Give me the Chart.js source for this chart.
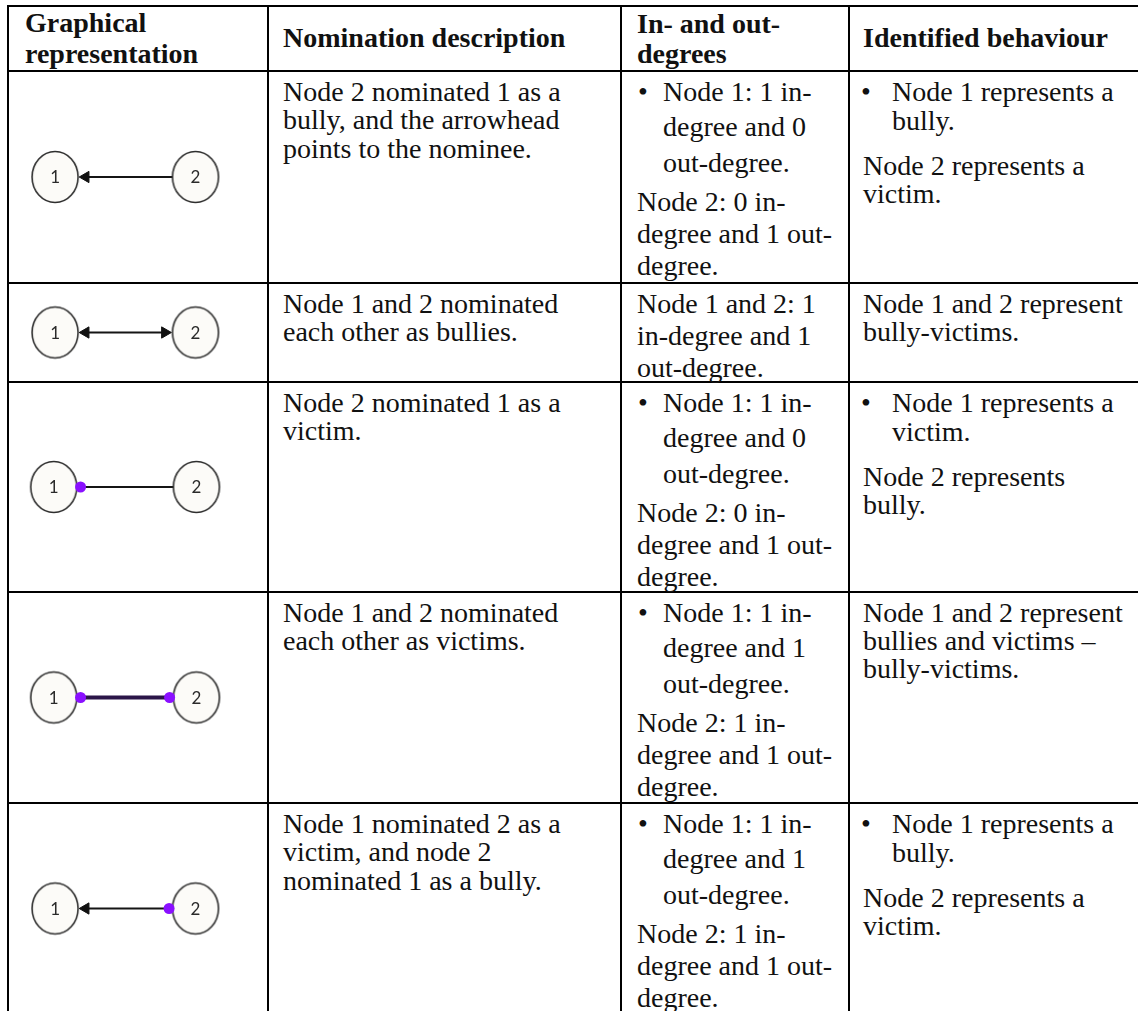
<!DOCTYPE html>
<html>
<head>
<meta charset="utf-8">
<script src="https://cdn.jsdelivr.net/npm/chart.js@4.4.1/dist/chart.umd.min.js"></script>
<style>
  body { margin: 0; background: #fff; width: 1138px; height: 1011px; overflow: hidden; position: relative;
         font-family: "Liberation Serif", "Times New Roman", serif; color: #111; }
  .ln { position: absolute; font-size: 28px; line-height: 28px; white-space: nowrap; }
  .hd { font-weight: bold; }
  .hl { position: absolute; height: 2px; background: #000; }
  .vl { position: absolute; width: 2px; background: #000; }
  canvas { position: absolute; }
</style>
</head>
<body>
<script>
// ---- table text ----
const headerLines = [['Graphical', 'representation'], ['Nomination description'], ['In- and out-', 'degrees'], ['Identified behaviour']];

const descriptionLines = [
  ['Node 2 nominated 1 as a', 'bully, and the arrowhead', 'points to the nominee.'],
  ['Node 1 and 2 nominated', 'each other as bullies.'],
  ['Node 2 nominated 1 as a', 'victim.'],
  ['Node 1 and 2 nominated', 'each other as victims.'],
  ['Node 1 nominated 2 as a', 'victim, and node 2', 'nominated 1 as a bully.']
];

const degreeBulletLines = [
  ['Node 1: 1 in-', 'degree and 0', 'out-degree.'],
  [],
  ['Node 1: 1 in-', 'degree and 0', 'out-degree.'],
  ['Node 1: 1 in-', 'degree and 1', 'out-degree.'],
  ['Node 1: 1 in-', 'degree and 1', 'out-degree.']
];
const degreeNoteLines = [
  ['Node 2: 0 in-', 'degree and 1 out-', 'degree.'],
  ['Node 1 and 2: 1', 'in-degree and 1', 'out-degree.'],
  ['Node 2: 0 in-', 'degree and 1 out-', 'degree.'],
  ['Node 2: 1 in-', 'degree and 1 out-', 'degree.'],
  ['Node 2: 1 in-', 'degree and 1 out-', 'degree.']
];

const behaviourBulletLines = [
  ['Node 1 represents a', 'bully.'],
  [],
  ['Node 1 represents a', 'victim.'],
  [],
  ['Node 1 represents a', 'bully.']
];
const behaviourNoteLines = [
  ['Node 2 represents a', 'victim.'],
  ['Node 1 and 2 represent', 'bully-victims.'],
  ['Node 2 represents', 'bully.'],
  ['Node 1 and 2 represent', 'bullies and victims –', 'bully-victims.'],
  ['Node 2 represents a', 'victim.']
];

// ---- graph data (one small two-node graph per row) ----
const nodeIds = ['1', '2'];
const nodeX = [1, 2];
const arrowTo = [[1], [1, 2], [], [], [1]];      // nodes an arrowhead points at
const victimDot = [[], [], [1], [1, 2], [2]];    // nodes carrying a purple victim dot

// ---- layout ----
const colEdges = [8, 268, 621, 849, 1142];
const rowEdges = [6, 71, 283, 382, 592, 803, 1014];
const ASC = 23.45;

function placeLine(text, x, baseline, bold) {
  const d = document.createElement('div');
  d.className = 'ln' + (bold ? ' hd' : '');
  d.textContent = text;
  d.style.left = x + 'px';
  d.style.top = (baseline - ASC) + 'px';
  document.body.appendChild(d);
}

// grid
rowEdges.forEach(y => {
  const d = document.createElement('div');
  d.className = 'hl';
  d.style.left = '7px'; d.style.width = '1140px'; d.style.top = (y - 1) + 'px';
  document.body.appendChild(d);
});
colEdges.forEach(x => {
  const d = document.createElement('div');
  d.className = 'vl';
  d.style.left = (x - 1) + 'px'; d.style.top = '5px'; d.style.height = '1010px';
  document.body.appendChild(d);
});

// header
const headerX = [25, 283, 637, 863];
const headerBase = [[32, 63], [47], [33, 63], [47]];
headerLines.forEach((lines, c) => lines.forEach((t, i) => placeLine(t, headerX[c], headerBase[c][i], true)));

// body text
for (let r = 0; r < 5; r++) {
  const top = rowEdges[r + 1];
  descriptionLines[r].forEach((t, i) => placeLine(t, 283, top + 30 + i * 28.5));

  let y = top + 30;
  degreeBulletLines[r].forEach((t, i) => {
    if (i === 0) placeLine('•', 638, y);
    placeLine(t, 663, y);
    y += 35.5;
  });
  if (degreeBulletLines[r].length) y += 3.5;
  degreeNoteLines[r].forEach(t => { placeLine(t, 637, y); y += 32; });

  y = top + 30;
  behaviourBulletLines[r].forEach((t, i) => {
    if (i === 0) placeLine('•', 861, y);
    placeLine(t, 892, y);
    y += 29;
  });
  if (behaviourBulletLines[r].length) y += 16;
  behaviourNoteLines[r].forEach(t => { placeLine(t, 863, y); y += 28; });
}

// ---- node diagrams drawn with Chart.js ----
function makeNodeImage() {
  const c = document.createElement('canvas');
  c.width = 50; c.height = 56;
  const g = c.getContext('2d');
  g.beginPath();
  g.ellipse(25, 28, 23, 25.5, 0, 0, Math.PI * 2);
  g.fillStyle = '#fcfbf8';
  g.fill();
  g.lineWidth = 1.6;
  g.strokeStyle = '#2e2e2e';
  g.stroke();
  return c;
}
const nodeImg = makeNodeImage();

const nodeLabels = {
  id: 'nodeLabels',
  afterDatasetsDraw(chart) {
    const meta = chart.getDatasetMeta(2);
    const ctx = chart.ctx;
    ctx.save();
    ctx.font = '17px Lato, "Open Sans", sans-serif';
    ctx.fillStyle = '#2a2a2a';
    ctx.textAlign = 'center';
    ctx.textBaseline = 'middle';
    meta.data.forEach((pt, i) => ctx.fillText(nodeIds[i], pt.x, pt.y + 1));
    ctx.restore();
  }
};

const W = colEdges[1] - colEdges[0] - 2;
const xMin = 0.725, xMax = 2.456;
const unit = (xMax - xMin) / W;
const nodeR = 23, tipGap = 3, dotOff = 28, arrowR = 6.5;

for (let r = 0; r < 5; r++) {
  const h = rowEdges[r + 2] - rowEdges[r + 1] - 2;
  const canvas = document.createElement('canvas');
  canvas.width = W; canvas.height = h;
  canvas.style.left = (colEdges[0] + 1) + 'px';
  canvas.style.top = (rowEdges[r + 1] + 1) + 'px';
  canvas.style.width = W + 'px'; canvas.style.height = h + 'px';
  document.body.appendChild(canvas);

  const side = i => (i === 0 ? 1 : -1);
  const nodes = nodeX.map(x => ({x, y: 0}));
  const dots = [], arrows = [];
  const ends = nodeX.map((x, i) => {
    const id = i + 1;
    if (victimDot[r].includes(id)) {
      const px = x + side(i) * dotOff * unit;
      dots.push({x: px, y: 0});
      return px;
    }
    if (arrowTo[r].includes(id)) {
      const centre = x + side(i) * (nodeR + tipGap + arrowR) * unit;
      arrows.push({x: centre, y: 0, rot: i === 0 ? -90 : 90});
      return centre;
    }
    return x + side(i) * nodeR * unit;
  });
  const purple = victimDot[r].length === 2;

  new Chart(canvas, {
    type: 'scatter',
    data: {
      datasets: [
        {data: dots, pointStyle: 'circle', pointRadius: 5.5, backgroundColor: '#8a10ff', borderWidth: 0},
        {data: arrows, pointStyle: 'triangle', pointRadius: arrowR,
         pointRotation: ctx => (ctx.raw ? ctx.raw.rot : 0),
         backgroundColor: '#111', borderColor: '#111', borderWidth: 1},
        {data: nodes, pointStyle: nodeImg},
        {data: ends.map(x => ({x, y: 0})), showLine: true, pointRadius: 0,
         borderColor: purple ? '#2b1548' : '#151515', borderWidth: purple ? 4 : 2}
      ]
    },
    options: {
      responsive: false,
      animation: false,
      events: [],
      devicePixelRatio: 1,
      layout: {padding: 0},
      plugins: {legend: {display: false}, tooltip: {enabled: false}},
      scales: {
        x: {type: 'linear', min: xMin, max: xMax, display: false},
        y: {min: -1, max: 1, display: false}
      }
    },
    plugins: [nodeLabels]
  });
}
</script>
</body>
</html>
